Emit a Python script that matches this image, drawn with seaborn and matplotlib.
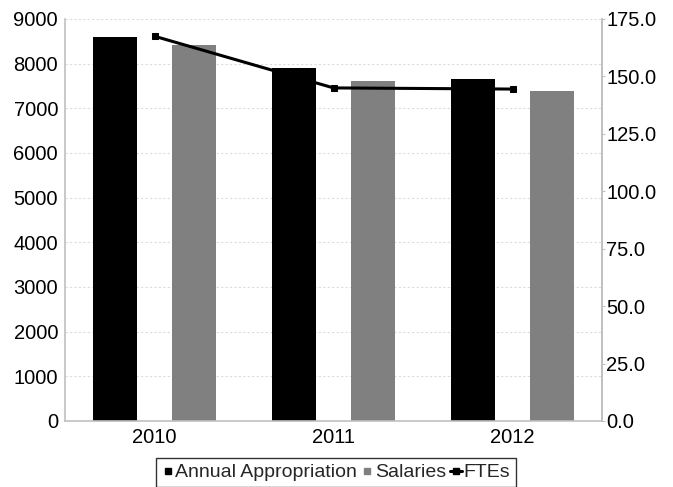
import matplotlib
matplotlib.use("Agg")
import matplotlib.pyplot as plt
import seaborn as sns
import pandas as pd
from matplotlib.lines import Line2D

years = ["2010", "2011", "2012"]
annual_appropriation = [8600, 7900, 7660]
salaries = [8420, 7610, 7390]
ftes = [167.5, 145.0, 144.5]

sns.set_theme(style="white")
plt.rcParams['font.family'] = ['Liberation Sans', 'DejaVu Sans']

df = pd.DataFrame({
    "Year": years * 2,
    "Value": annual_appropriation + salaries,
    "Series": ["Annual Appropriation"] * 3 + ["Salaries"] * 3,
})

fig = plt.figure(figsize=(6.73, 4.87), dpi=100)
ax = fig.add_axes([65/673, 1 - 421/487, (602-65)/673, (421-19)/487])

sns.barplot(data=df, x="Year", y="Value", hue="Series",
            palette={"Annual Appropriation": "#000000", "Salaries": "#808080"},
            width=0.893, gap=0.449, ax=ax, legend=False, edgecolor="none")
ax.set_ylim(0, 9000)
ax.set_xlim(-0.5, 2.5)
ax.set_yticks(range(0, 9001, 1000))
ax.set_xlabel("")
ax.set_ylabel("")
ax.yaxis.grid(True, color="#dcdcdc", linestyle=(0, (2, 2)), linewidth=0.8)
ax.set_axisbelow(True)
ax.spines["top"].set_visible(False)
for s in ["left", "bottom", "right"]:
    ax.spines[s].set_color("#c0c0c0")
    ax.spines[s].set_linewidth(1.2)
ax.tick_params(axis="both", labelsize=14.5, colors="#000000", length=0, pad=5)

ax2 = ax.twinx()
sns.lineplot(x=[0, 1, 2], y=ftes, ax=ax2, color="#000000", linewidth=2.2,
             marker="s", markersize=5, markeredgecolor="#000000")
ax2.set_ylim(0, 175)
ax2.set_yticks([0, 25, 50, 75, 100, 125, 150, 175])
ax2.set_yticklabels([f"{v:.1f}" for v in [0, 25, 50, 75, 100, 125, 150, 175]])
ax2.set_ylabel("")
for s in ["top", "left", "bottom"]:
    ax2.spines[s].set_visible(False)
ax2.spines["right"].set_color("#c0c0c0")
ax2.spines["right"].set_linewidth(1.2)
ax2.tick_params(axis="y", labelsize=14.5, colors="#000000", length=2, width=0.8, pad=1)
ax2.tick_params(axis="y", color="#c0c0c0")
ax2.set_xlim(-0.5, 2.5)

handles = [
    Line2D([0], [0], marker="s", color="none", markerfacecolor="#000000",
           markeredgecolor="#000000", markersize=4.5),
    Line2D([0], [0], marker="s", color="none", markerfacecolor="#808080",
           markeredgecolor="#808080", markersize=4.5),
    Line2D([0], [0], marker="s", color="#000000", linewidth=2.2,
           markerfacecolor="#000000", markersize=4.5),
]
leg = fig.legend(handles, ["Annual Appropriation", "Salaries", "FTEs"],
                 loc="upper center", bbox_to_anchor=(336/673, 1 - 458/487), ncol=3,
                 frameon=True, fontsize=14, handlelength=0.6, handletextpad=0.1,
                 columnspacing=0.2, borderpad=0.3, borderaxespad=0, fancybox=False)
leg.get_frame().set_edgecolor("#000000")
leg.get_frame().set_linewidth(1.0)

fig.savefig("out.png", dpi=100)
